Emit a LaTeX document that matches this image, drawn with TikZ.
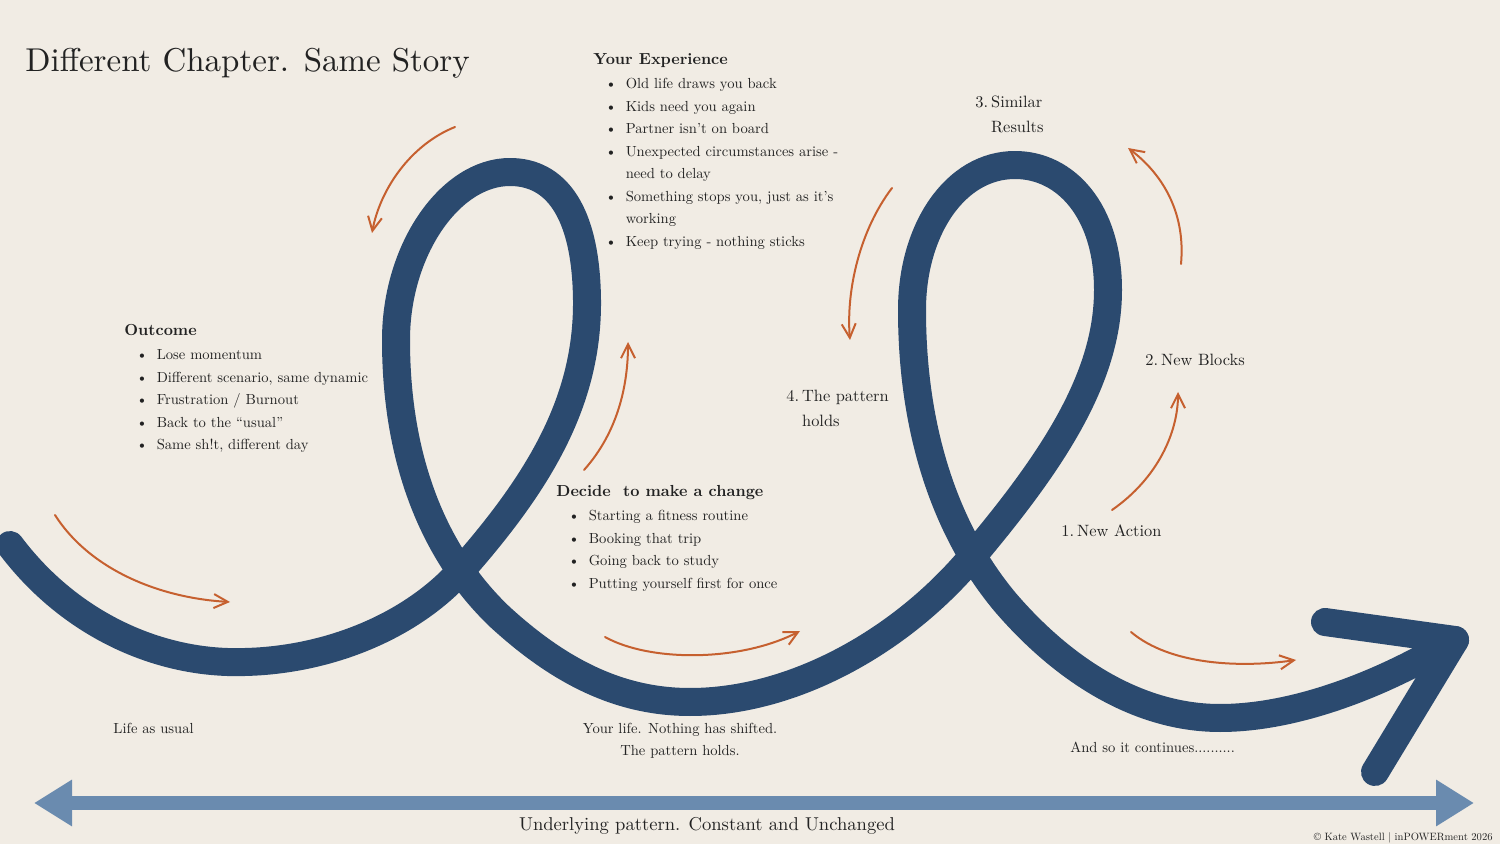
\documentclass[tikz,border=0pt]{standalone}
\usepackage{fontspec}
\setmainfont{lmroman10-regular}[Extension=.otf, BoldFont=lmroman10-bold, ItalicFont=lmroman10-italic]
\usepackage{tikz}
\usetikzlibrary{arrows.meta}

\definecolor{paper}{HTML}{F1ECE4}
\definecolor{navy}{HTML}{2B4A6F}
\definecolor{rust}{HTML}{C6602F}
\definecolor{steel}{HTML}{6A8BAF}
\definecolor{ink}{HTML}{222222}

\newcommand{\bodyfont}{\fontsize{7.3}{11.25}\selectfont}
\newcommand{\headfont}{\fontsize{8}{11.25}\selectfont\bfseries}
\newcommand{\labelfont}{\fontsize{8.2}{12.5}\selectfont}

\tikzset{
  storyline/.style={navy, line width=14pt, line cap=round, line join=round},
  hint/.style={rust, line width=1pt, line cap=round, -{Straight Barb[length=7pt,width=7pt]}},
  txt/.style={inner sep=0pt, text=ink, anchor=base west, font=\bodyfont},
  steplabel/.style={txt, font=\labelfont},
}

\begin{document}
\begin{tikzpicture}[x=0.5pt,y=-0.5pt]
			\fill[paper] (0,0) rectangle (1500,844);
			\useasboundingbox (0,0) rectangle (1500,844);
			
			% the story line
			\draw[storyline] (10,545)
				.. controls (70,625) and (160,665) .. (245,662)
				.. controls (330,660) and (415,625) .. (465,566)
				.. controls (540,480) and (588,400) .. (587,300)
				.. controls (586,210) and (555,172) .. (510,172)
				.. controls (450,172) and (396,250) .. (396,340)
				.. controls (396,470) and (440,560) .. (500,617)
				.. controls (560,672) and (620,702) .. (690,702)
				.. controls (790,702) and (895,645) .. (966,564)
				.. controls (1050,465) and (1108,380) .. (1108,290)
				.. controls (1108,210) and (1065,165) .. (1015,165)
				.. controls (955,165) and (912,230) .. (912,310)
				.. controls (912,430) and (945,530) .. (1005,602)
				.. controls (1065,672) and (1140,718) .. (1220,718)
				.. controls (1300,718) and (1390,680) .. (1455,640);
			\draw[storyline] (1325,622) -- (1455,640) -- (1375,772);
			
			% underlying pattern
			\draw[steel, line width=7pt, {Triangle[length=19pt,width=22pt]}-{Triangle[length=19pt,width=22pt]}] (34,803) -- (1474,803);
			
			% hand drawn arrows
			\draw[hint] (55,515) .. controls (90,570) and (160,598) .. (230,602);
			\draw[hint] (455,127) .. controls (410,145) and (380,190) .. (372,233);
			\draw[hint] (584,470) .. controls (618,432) and (628,385) .. (628,342);
			\draw[hint] (605,637) .. controls (650,662) and (740,662) .. (800,631);
			\draw[hint] (892,188) .. controls (860,230) and (846,290) .. (850,340);
			\draw[hint] (1112,510) .. controls (1158,478) and (1178,432) .. (1178,392);
			\draw[hint] (1181,264) .. controls (1186,210) and (1160,172) .. (1128,148);
			\draw[hint] (1131,632) .. controls (1170,665) and (1240,668) .. (1296,660);
			
			% texts
			\node[txt, font=\fontsize{16.5}{20}\selectfont] (title) at (25,72) {Different Chapter. Same Story};
			
			\node[txt] (experience) at (593,65) {\begin{tabular}[t]{@{\hspace{6pt}}l@{\hspace{4.5pt}}l@{}}
				\multicolumn{2}{@{}l@{}}{\headfont Your Experience}\\[0.6pt]
				\textbullet & Old life draws you back\\
				\textbullet & Kids need you again\\
				\textbullet & Partner isn’t on board\\
				\textbullet & Unexpected circumstances arise -\\
				 & need to delay\\
				\textbullet & Something stops you, just as it’s\\
				 & working\\
				\textbullet & Keep trying - nothing sticks
			\end{tabular}};
			
			\node[txt] (outcome) at (124,336) {\begin{tabular}[t]{@{\hspace{6pt}}l@{\hspace{4.5pt}}l@{}}
				\multicolumn{2}{@{}l@{}}{\headfont Outcome}\\[0.6pt]
				\textbullet & Lose momentum\\
				\textbullet & Different scenario, same dynamic\\
				\textbullet & Frustration / Burnout\\
				\textbullet & Back to the “usual”\\
				\textbullet & Same sh!t, different day
			\end{tabular}};
			
			\node[txt] (decide) at (556,497) {\begin{tabular}[t]{@{\hspace{6pt}}l@{\hspace{4.5pt}}l@{}}
				\multicolumn{2}{@{}l@{}}{\headfont Decide\ \ to make a change}\\[0.6pt]
				\textbullet & Starting a fitness routine\\
				\textbullet & Booking that trip\\
				\textbullet & Going back to study\\
				\textbullet & Putting yourself first for once
			\end{tabular}};
			
			\node[steplabel] (similar) at (975,108) {\begin{tabular}[t]{@{}l@{\hspace{1.5pt}}l@{}}3. & Similar\\ & Results\end{tabular}};
			\node[steplabel] (blocks) at (1145,366) {\begin{tabular}[t]{@{}l@{\hspace{1.5pt}}l@{}}2. & New Blocks\end{tabular}};
			\node[steplabel] (holds) at (786,402) {\begin{tabular}[t]{@{}l@{\hspace{1.5pt}}l@{}}4. & The pattern\\ & holds\end{tabular}};
			\node[steplabel] (action) at (1061,537) {\begin{tabular}[t]{@{}l@{\hspace{1.5pt}}l@{}}1. & New Action\end{tabular}};
			
			\node[txt] (usual) at (113,733) {Life as usual};
			\node[txt, anchor=base] (nothing) at (680,733) {\begin{tabular}[t]{@{}c@{}}Your life. Nothing has shifted.\\The pattern holds.\end{tabular}};
			\node[txt] (continues) at (1070,752) {And so it continues..........};
			\node[txt, anchor=base, font=\fontsize{9.3}{11}\selectfont] (pattern) at (707,830) {Underlying pattern. Constant and Unchanged};
			\node[txt, anchor=base east, font=\fontsize{5.3}{6}\selectfont] (credit) at (1493,840) {© Kate Wastell | inPOWERment 2026};
		\end{tikzpicture}
\end{document}
